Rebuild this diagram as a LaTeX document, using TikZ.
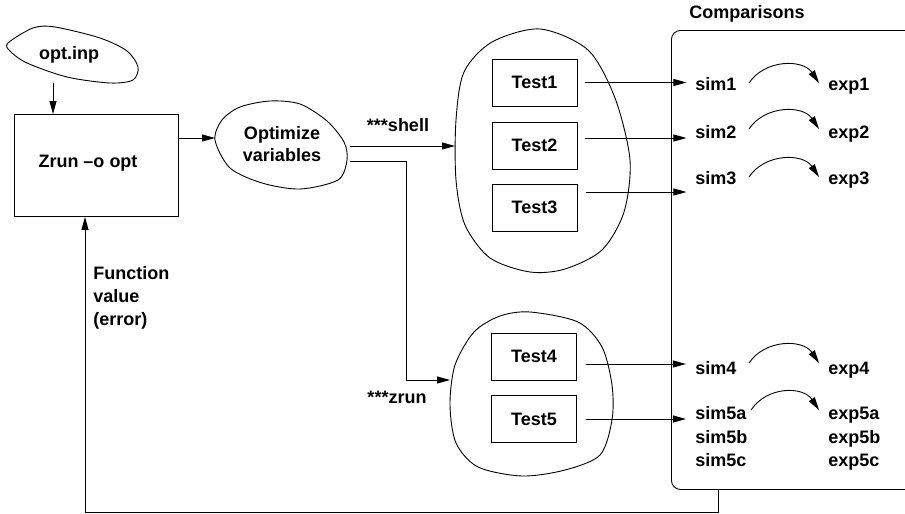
\documentclass[tikz,border=0pt]{standalone}
\usepackage{fontspec}
\setmainfont{Liberation Sans}
\usetikzlibrary{arrows.meta,calc}

\begin{document}
\begin{tikzpicture}[x=1pt,y=-1pt,line width=0.9pt,
  lbl/.style={font=\fontsize{18}{21}\selectfont\bfseries,inner sep=0pt},
  arr/.style={-{Triangle[length=13pt,width=7pt]}},
  testbox/.style={draw,lbl,minimum width=85pt,minimum height=47pt},
  blob/.style={draw,line width=0.9pt},
]
\useasboundingbox (0,0) rectangle (905,514);
\clip (0,0) rectangle (905,514);

% free-form outlines
\draw[blob] plot[smooth cycle] coordinates {(8,43) (33,28) (55,27) (100,38) (127,51) (138,67) (133,80) (110,83) (67,77) (27,63) (10,51)};
\draw[blob] plot[smooth cycle] coordinates {(215,140) (222,120) (240,107) (270,101) (300,104) (327,121) (344,142) (347,160) (338,180) (300,189) (262,183) (230,168)};
\draw[blob] plot[smooth cycle] coordinates {(540,29) (588,50) (615,98) (630,160) (624,212) (602,250) (565,269) (530,272) (490,258) (465,225) (456,180) (456,120) (464,72) (492,42)};
\draw[blob] plot[smooth cycle] coordinates {(530,312) (578,322) (602,347) (612,385) (612,420) (600,455) (565,470) (522,476) (478,467) (456,443) (450,405) (455,365) (474,332) (500,316)};

% input file and main program
\node[lbl,anchor=base] (inp) at (69,59) {opt.inp};
\node[draw,minimum width=164pt,minimum height=102pt,anchor=north west] (zrun) at (14,114) {};
\node[lbl,anchor=base] (zruntxt) at (88,167) {Zrun --o opt};
\coordinate (inpb) at (53,83);
\draw[arr] (inpb) -- (inpb |- zrun.north);

% optimizer
\node[lbl,anchor=base] (opt1) at (282,139.5) {Optimize};
\node[lbl,anchor=base] (opt2) at (282,161.5) {variables};
\coordinate (optL) at (215,138);
\draw[arr] (optL -| zrun.east) -- (optL);

% branches to the test groups
\coordinate (sh0) at (350,146);
\coordinate (shL) at (455,146);
\draw[arr] (sh0) -- (shL);
\node[lbl,anchor=base] (shell) at (398,131) {***shell};
\coordinate (zr0) at (350,161);
\coordinate (zrL) at (450,380);
\draw[arr] (zr0) -| (406,380) -- (zrL);
\node[lbl,anchor=base] (zrunlbl) at (397,403) {***zrun};

% tests
\node[testbox] (t1) at (534.5,82.5) {Test1};
\node[testbox] (t2) at (534.5,145.5) {Test2};
\node[testbox] (t3) at (534.5,207.5) {Test3};
\node[testbox] (t4) at (534,356.5) {Test4};
\node[testbox] (t5) at (534,419) {Test5};

% comparisons panel
\node[draw,rounded corners=9pt,minimum width=262pt,minimum height=459pt,anchor=north west] (cmp) at (671,30) {};
\node[lbl,anchor=base] (cmplbl) at (747,18) {Comparisons};
\foreach \n/\y in {1/90.5,2/138.5,3/184.5,4/374.5,5a/419,5b/443,5c/466.5}{
  \node[lbl,anchor=base west] (sim\n) at (695,\y) {sim\n};
  \node[lbl,anchor=base west] (exp\n) at (828,\y) {exp\n};
}

% results into the panel
\draw[arr] ([shift={(8,0)}]t1.east) -- ++(101,0);
\draw[arr] ([shift={(8,-7.5)}]t2.east) -- ++(101,0);
\draw[arr] ([shift={(9,-15.5)}]t3.east) -- ++(100,0);
\draw[arr] ([shift={(9,7.5)}]t4.east) -- ++(100,0);
\draw[arr] ([shift={(9,0)}]t5.east) -- ++(100,0);

% sim -> exp comparisons
\foreach \x/\y in {749/83,749/129,749/177,749/363,751/410}{
  \draw[arr] (\x,\y) .. controls (\x+16,\y-24) and (803,\y-24) .. (819,\y);
}

% feedback of the function value
\coordinate (fb) at (718,512);
\coordinate (fbL) at (85,512);
\draw[arr] (cmp.south -| fb) -- (fb) -- (fbL) -- (fbL |- zrun.south);
\node[lbl,anchor=base west] (fv1) at (93,279.5) {Function};
\node[lbl,anchor=base west] (fv2) at (93,302.5) {value};
\node[lbl,anchor=base west] (fv3) at (93,325.5) {(error)};
\end{tikzpicture}
\end{document}
